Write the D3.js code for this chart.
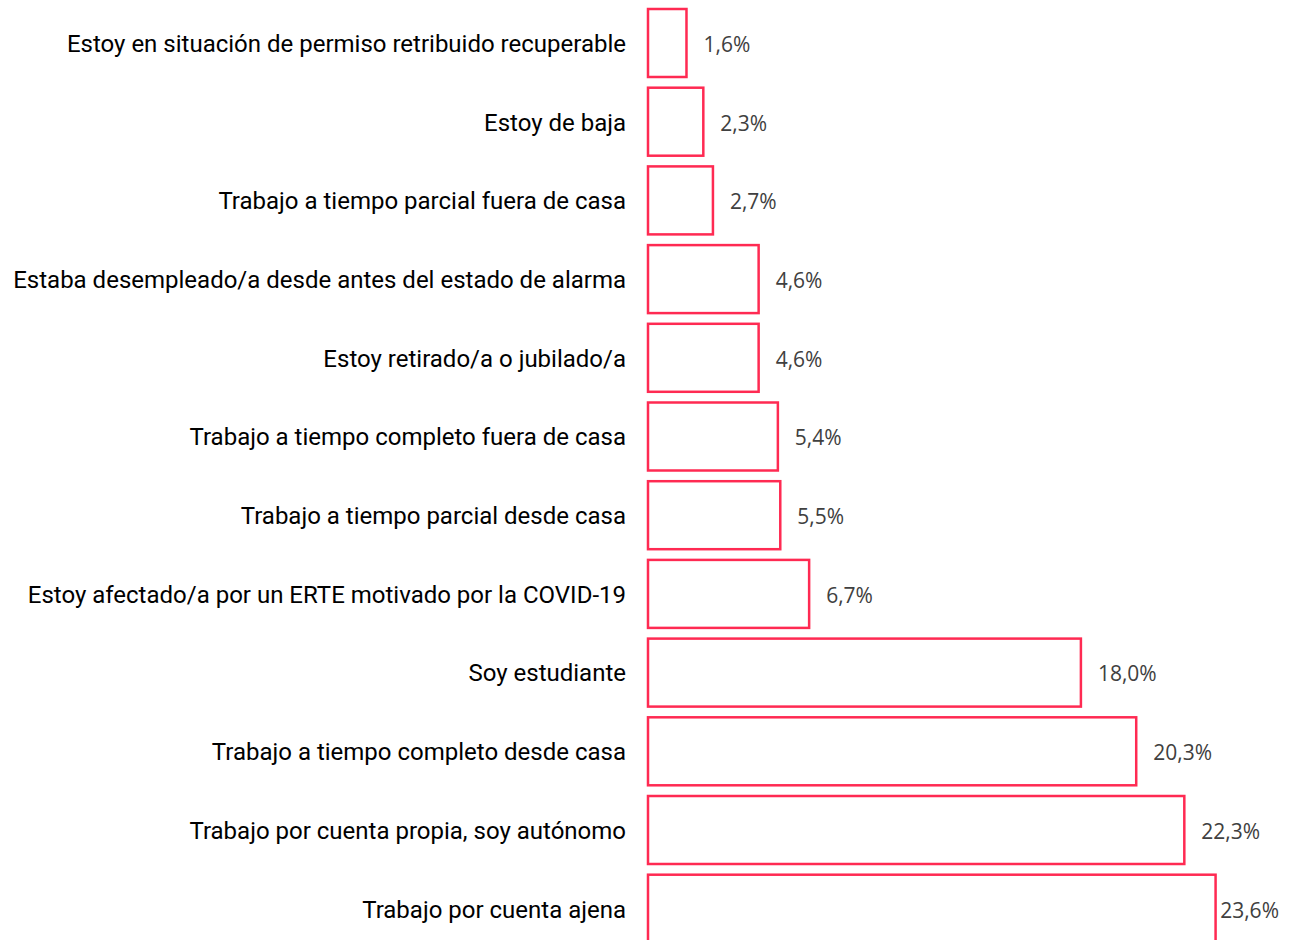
<!DOCTYPE html>
<html><head><meta charset="utf-8">
<script src="https://cdn.jsdelivr.net/npm/d3@7"></script>
<style>html,body{margin:0;padding:0;background:#fff;overflow:hidden}</style>
</head><body>
<svg id="c" width="1299" height="940"></svg>
<script>
const categories = [
  "Estoy en situación de permiso retribuido recuperable",
  "Estoy de baja",
  "Trabajo a tiempo parcial fuera de casa",
  "Estaba desempleado/a desde antes del estado de alarma",
  "Estoy retirado/a o jubilado/a",
  "Trabajo a tiempo completo fuera de casa",
  "Trabajo a tiempo parcial desde casa",
  "Estoy afectado/a por un ERTE motivado por la COVID-19",
  "Soy estudiante",
  "Trabajo a tiempo completo desde casa",
  "Trabajo por cuenta propia, soy autónomo",
  "Trabajo por cuenta ajena"
];
const values = [1.6, 2.3, 2.7, 4.6, 4.6, 5.4, 5.5, 6.7, 18.0, 20.3, 22.3, 23.6];

const svg = d3.select("#c");
const x = d3.scaleLinear().domain([0, 25]).range([648, 648 + 25 * 24.05]);
const y = d3.scaleBand().domain(categories).range([3.65, 3.65 + 12 * 78.7])
  .paddingInner(0.136).paddingOuter(0.068);

svg.selectAll("rect.bar").data(values).join("rect")
  .attr("class", "bar")
  .attr("x", x(0))
  .attr("y", (d, i) => y(categories[i]))
  .attr("width", d => x(d) - x(0))
  .attr("height", y.bandwidth())
  .attr("fill", "#fff")
  .attr("stroke", "#ff2a52")
  .attr("stroke-width", 2.5);

svg.selectAll("text.cat").data(categories).join("text")
  .attr("class", "cat")
  .attr("x", 626)
  .attr("y", d => y(d) + y.bandwidth() / 2)
  .attr("dy", "0.37em")
  .attr("text-anchor", "end")
  .attr("font-family", "Roboto")
  .attr("font-size", 24)
  .attr("fill", "#000")
  .text(d => d);

const fmt = d => d.toFixed(1).replace(".", ",") + "%";
svg.selectAll("text.val").data(values).join("text")
  .attr("class", "val")
  .attr("y", (d, i) => y(categories[i]) + y.bandwidth() / 2)
  .attr("dy", "0.42em")
  .attr("font-family", "Open Sans")
  .attr("font-size", 21)
  .attr("fill", "#404040")
  .text(fmt)
  .attr("x", function(d) {
    const w = this.getComputedTextLength();
    return Math.min(x(d) + 17, 1279 - w);
  });
</script>
</body></html>
